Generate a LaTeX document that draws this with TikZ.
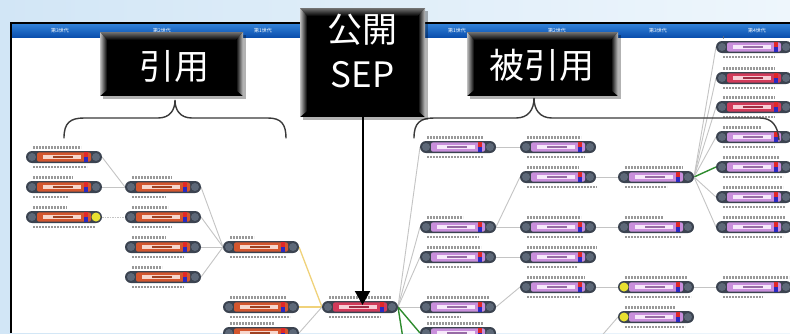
\documentclass[tikz,border=0pt]{standalone}
\usepackage{fontspec}
\newfontfamily\cjk{Noto Sans CJK JP}
\usetikzlibrary{shapes.misc,arrows.meta,calc}
\pgfdeclarelayer{bglayer}
\pgfdeclarelayer{edgelayer}
\pgfsetlayers{bglayer,edgelayer,main}
\definecolor{pillgray}{HTML}{3B4350}
\definecolor{endgray}{HTML}{5D6878}
\definecolor{lbar}{HTML}{D4562E}
\definecolor{lin}{HTML}{F6D6CC}
\definecolor{rbar}{HTML}{C98FDC}
\definecolor{rin}{HTML}{F6E8FA}
\definecolor{sbar}{HTML}{D23A5A}
\definecolor{sin}{HTML}{F7CDD6}
\definecolor{sqred}{HTML}{E02828}
\definecolor{sqblue}{HTML}{2A2AC0}
\definecolor{yel}{HTML}{E8E030}
\definecolor{edgegray}{HTML}{C4C4C4}
\definecolor{edgeyel}{HTML}{F0D27A}
\definecolor{edgegreen}{HTML}{2E8B2E}
\definecolor{txtgray}{HTML}{6E6E6E}
\definecolor{bgblue}{HTML}{D2E6F6}
\definecolor{bgblue2}{HTML}{EEF6FC}
\definecolor{hdtop}{HTML}{2F7FD6}
\definecolor{hdbot}{HTML}{0B4FAE}
\definecolor{bracegray}{HTML}{3A3A3A}
\tikzset{
  pill/.style 2 args={rounded rectangle, minimum width=76pt, minimum height=12pt,
    inner sep=0pt, outer sep=0pt, fill=pillgray,
    path picture={
      \fill[#1,rounded corners=2pt] ([xshift=-27pt,yshift=-4.6pt]path picture bounding box.center) rectangle ([xshift=27pt,yshift=4.6pt]path picture bounding box.center);
      \fill[#2] ([xshift=-21pt,yshift=-2.4pt]path picture bounding box.center) rectangle ([xshift=17pt,yshift=2.4pt]path picture bounding box.center);
      \fill[#1!75!black] ([xshift=-11pt,yshift=-1pt]path picture bounding box.center) rectangle ([xshift=9pt,yshift=1pt]path picture bounding box.center);
      \fill[sqred] ([xshift=20pt,yshift=0pt]path picture bounding box.center) rectangle ([xshift=24pt,yshift=4.6pt]path picture bounding box.center);
      \fill[sqblue] ([xshift=20pt,yshift=-4.6pt]path picture bounding box.center) rectangle ([xshift=24pt,yshift=0pt]path picture bounding box.center);
      \fill[endgray] ([xshift=-32pt]path picture bounding box.center) circle (4pt);
      \fill[endgray] ([xshift=32pt]path picture bounding box.center) circle (4pt);
    }},
  lp/.style={pill={lbar}{lin}},
  rp/.style={pill={rbar}{rin}},
  sp/.style={pill={sbar}{sin}},
  txt/.style={txtgray, line width=2.6pt, dash pattern=on 2.4pt off 0.6pt, opacity=0.7},
  edge/.style={edgegray, line width=0.9pt},
  yedge/.style={edgeyel, line width=1.3pt},
  gedge/.style={edgegreen, line width=1.4pt},
  cbox/.style={fill=black, inner sep=0pt, outer sep=0pt},
  ctext/.style={text=white, font=\cjk\fontsize{35}{45}\selectfont, inner sep=0pt, align=center},
  tabtext/.style={text=white, font=\cjk\fontsize{5}{6}\selectfont, inner sep=0pt},
  bracestyle/.style={bracegray, line width=1.4pt, line cap=round},
}
\newcommand\cnd[6]{%
  \node[#4] (#1) at (#2,#3) {};
  \draw[txt] (#2-31,#3-9.8) -- ++(#5,0);
  \draw[txt] (#2-31,#3+9.8) -- ++(#6,0);
}
\newcommand\bevelbox[1]{%
  \shade[top color=black!55, bottom color=black] (#1.north west) -- (#1.north east) -- ([xshift=-7pt,yshift=-8pt]#1.north east) -- ([xshift=7pt,yshift=-8pt]#1.north west) -- cycle;
  \shade[left color=black!25, right color=black] (#1.north west) -- ([xshift=7pt,yshift=-8pt]#1.north west) -- ([xshift=7pt,yshift=6pt]#1.south west) -- (#1.south west) -- cycle;
  \shade[right color=black!25, left color=black] (#1.north east) -- ([xshift=-7pt,yshift=-8pt]#1.north east) -- ([xshift=-7pt,yshift=6pt]#1.south east) -- (#1.south east) -- cycle;
}
\begin{document}
\begin{tikzpicture}[x=1pt,y=-1pt]
\useasboundingbox (0,0) rectangle (790,333);
\begin{pgfonlayer}{bglayer}
  \shade[left color=bgblue, right color=bgblue2] (0,0) rectangle (790,333);
  \fill[white] (10,22) rectangle (790,333);
  \shade[top color=hdtop, bottom color=hdbot] (12,24.5) rectangle (790,37);
  \draw[black, line width=1.6pt] (10.8,333) -- (10.8,22.8) -- (790,22.8);
\end{pgfonlayer}
% generation tabs
\node[tabtext] (g3l) at (60,30.5) {第3世代};
\node[tabtext] (g2l) at (162,30.5) {第2世代};
\node[tabtext] (g1l) at (263,30.5) {第1世代};
\node[tabtext] (g1r) at (457,30.5) {第1世代};
\node[tabtext] (g2r) at (557,30.5) {第2世代};
\node[tabtext] (g3r) at (658,30.5) {第3世代};
\node[tabtext] (g4r) at (757,30.5) {第4世代};
% left (citing) nodes
\cnd{c1a}{64}{157}{lp}{48}{54}
\cnd{c1b}{64}{187}{lp}{40}{36}
\cnd{c1c}{64}{217}{lp}{34}{62}
\cnd{c2a}{163}{187}{lp}{40}{34}
\cnd{c2b}{163}{217}{lp}{36}{40}
\cnd{c2c}{163}{247}{lp}{34}{52}
\cnd{c2d}{163}{277}{lp}{30}{52}
\cnd{c3a}{261}{247}{lp}{24}{56}
\cnd{c3b}{261}{307}{lp}{56}{60}
\cnd{c3c}{261}{333}{lp}{44}{50}
% SEP
\cnd{sep}{360}{307}{sp}{62}{52}
% right (cited-by) nodes
\cnd{r1a}{458}{147}{rp}{56}{56}
\cnd{r1b}{458}{227}{rp}{36}{52}
\cnd{r1c}{458}{257}{rp}{54}{44}
\cnd{r1d}{458}{307}{rp}{62}{34}
\cnd{r1e}{458}{333}{rp}{56}{40}
\cnd{r2a}{558}{147}{rp}{54}{58}
\cnd{r2b}{558}{177}{rp}{52}{70}
\cnd{r2c}{558}{227}{rp}{54}{56}
\cnd{r2d}{558}{257}{rp}{70}{50}
\cnd{r2e}{558}{287}{rp}{58}{54}
\cnd{r3a}{656}{177}{rp}{58}{42}
\cnd{r3b}{656}{227}{rp}{38}{56}
\cnd{r3c}{656}{287}{rp}{62}{66}
\cnd{r3d}{656}{317}{rp}{50}{60}
\cnd{r4a}{754}{47}{rp}{0.1}{52}
\cnd{r4b}{754}{78}{sp}{52}{52}
\cnd{r4c}{754}{107}{sp}{52}{52}
\cnd{r4d}{754}{137}{rp}{38}{52}
\cnd{r4e}{754}{167}{rp}{56}{60}
\cnd{r4f}{754}{197}{rp}{60}{62}
\cnd{r4g}{754}{227}{rp}{62}{60}
\cnd{r4h}{754}{287}{rp}{66}{40}
% yellow end markers
\fill[yel] ($(c1c.center)+(32,0)$) circle (4.5pt);
\fill[yel] ($(r3c.center)+(-32,0)$) circle (4.5pt);
\fill[yel] ($(r3d.center)+(-32,0)$) circle (4.5pt);
\coordinate (gdown1) at (404,345);
\coordinate (r2off) at (598,340);
% connectors
\begin{pgfonlayer}{edgelayer}
  \draw[edge] (c1a.east) -- (c2a.west);
  \draw[edge] (c1b.east) -- (c2a.west);
  \draw[edge, dash pattern=on 1.5pt off 1pt] (c1c.east) -- (c2b.west);
  \draw[edge] (c2a.east) -- (c3a.west);
  \draw[edge] (c2b.east) -- (c3a.west);
  \draw[edge] (c2c.east) -- (c3a.west);
  \draw[edge] (c2d.east) -- (c3a.west);
  \draw[yedge] (c3a.east) -- (sep.west);
  \draw[yedge] (c3b.east) -- (sep.west);
  \draw[edge] (c3c.east) -- (sep.west);
  \draw[edge] (sep.east) -- (r1a.west);
  \draw[edge] (sep.east) -- (r1b.west);
  \draw[edge] (sep.east) -- (r1c.west);
  \draw[edge] (sep.east) -- (r1d.west);
  \draw[gedge] (sep.east) -- (r1e.west);
  \draw[gedge] (sep.east) -- (gdown1);
  \draw[edge] (r1a.east) -- (r2a.west);
  \draw[edge] (r1b.east) -- (r2b.west);
  \draw[edge] (r1b.east) -- (r2c.west);
  \draw[edge] (r1c.east) -- (r2d.west);
  \draw[edge] (r1d.east) -- (r2e.west);
  \draw[edge] (r2b.east) -- (r3a.west);
  \draw[edge] (r2c.east) -- (r3b.west);
  \draw[edge] (r2e.east) -- (r3c.west);
  \draw[edge] (r2off) -- (r3d.west);
  \draw[edge] (r3a.east) -- (r4a.west);
  \draw[edge] (r3a.east) -- (r4b.west);
  \draw[edge] (r3a.east) -- (r4c.west);
  \draw[edge] (r3a.east) -- (r4d.west);
  \draw[gedge] (r3a.east) -- (r4e.west);
  \draw[edge] (r3a.east) -- (r4f.west);
  \draw[edge] (r3a.east) -- (r4g.west);
  \draw[edge] (r3c.east) -- (r4h.west);
\end{pgfonlayer}
% braces
\draw[bracestyle] (64,138) .. controls (64,123) and (70,118) .. (84,118) -- (158,118)
  .. controls (170,118) and (175,110) .. (175,100)
  .. controls (175,110) and (180,118) .. (192,118) -- (268,118)
  .. controls (281,118) and (286,124) .. (286,138);
\draw[bracestyle] (414,138) .. controls (414,123) and (420,118) .. (434,118) -- (516,118)
  .. controls (528,118) and (534,110) .. (534,98)
  .. controls (534,110) and (540,118) .. (552,118) -- (760,118)
  .. controls (772,118) and (778,126) .. (779,140);
% callout boxes
\fill[black, opacity=0.3] (103,35) rectangle (246,99);
\fill[black, opacity=0.3] (303,11) rectangle (428,120);
\fill[black, opacity=0.3] (470,35) rectangle (621,99);
\node[cbox, minimum width=143pt, minimum height=64pt] (citebox) at (171.5,64) {};
\node[cbox, minimum width=125pt, minimum height=109pt] (sepbox) at (362.5,62.5) {};
\node[cbox, minimum width=151pt, minimum height=64pt] (citedbox) at (542.5,64) {};
\bevelbox{citebox}
\bevelbox{sepbox}
\bevelbox{citedbox}
\node[ctext] (citetxt) at (174,66) {引用};
\node[ctext] (septxt) at (362.5,51) {公開\\SEP};
\node[ctext] (citedtxt) at (542,65) {被引用};
\draw[black, line width=2pt, -{Triangle[width=15pt,length=14pt]}] (sepbox.south) -- ($(sep.north)+(2.5,4)$);
\end{tikzpicture}
\end{document}
